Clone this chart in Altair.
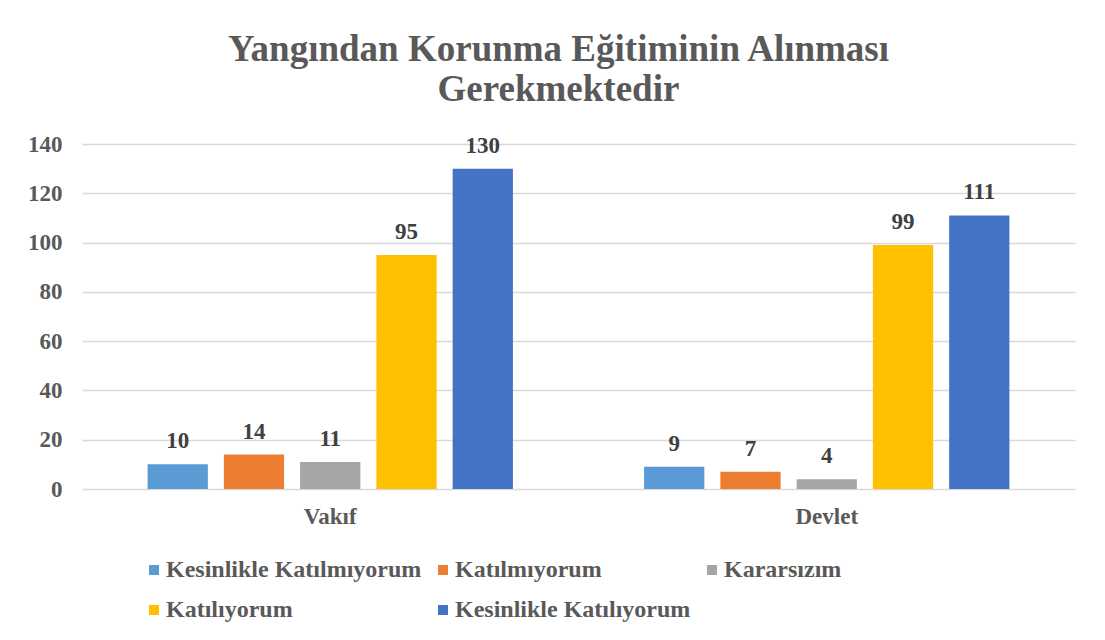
import altair as alt
import pandas as pd

categories = ["Vakıf", "Devlet"]
series = ["Kesinlikle Katılmıyorum", "Katılmıyorum", "Kararsızım", "Katılıyorum", "Kesinlikle Katılıyorum"]
vakif_values = [10, 14, 11, 95, 130]
devlet_values = [9, 7, 4, 99, 111]
colors = ["#5B9BD5", "#ED7D31", "#A5A5A5", "#FFC000", "#4472C4"]
y_ticks = [0, 20, 40, 60, 80, 100, 120, 140]

rows = []
for s, v in zip(series, vakif_values):
    rows.append({"group": categories[0], "series": s, "value": v})
for s, v in zip(series, devlet_values):
    rows.append({"group": categories[1], "series": s, "value": v})
df = pd.DataFrame(rows)

FONT = "Liberation Serif"
GRAY = "#595959"

base = alt.Chart(df).encode(
    x=alt.X("group:N", sort=categories,
            scale=alt.Scale(paddingInner=0, paddingOuter=0),
            axis=alt.Axis(title=None, labelAngle=0, domain=False, ticks=False,
                          labelFont=FONT, labelFontSize=23, labelFontWeight="bold",
                          labelColor=GRAY, labelPadding=16, grid=False)),
    xOffset=alt.XOffset("series:N", sort=series,
                        scale=alt.Scale(paddingInner=0.21, paddingOuter=0.86)),
    y=alt.Y("value:Q", scale=alt.Scale(domain=[0, 140], nice=False),
            axis=alt.Axis(title=None, values=y_ticks, domain=False, ticks=False,
                          grid=True, gridColor="#D9D9D9", gridWidth=1.5,
                          labelFont=FONT, labelFontSize=23, labelFontWeight="bold",
                          labelColor=GRAY, labelPadding=20)),
)

bars = base.mark_bar().encode(
    color=alt.Color("series:N", sort=series,
                    scale=alt.Scale(domain=series, range=colors),
                    legend=alt.Legend(title=None, orient="none", legendX=60, legendY=414,
                                      direction="horizontal", columns=3, padding=0,
                                      symbolType="square", symbolSize=100,
                                      symbolStrokeWidth=0,
                                      labelFont=FONT, labelFontSize=24,
                                      labelFontWeight="bold", labelColor=GRAY,
                                      labelOffset=0, columnPadding=9, rowPadding=16,
                                      labelLimit=400))
)

labels = base.mark_text(dy=-16, baseline="alphabetic", font=FONT, fontSize=23,
                        fontWeight="bold", color="#404040").encode(text="value:Q")

chart = alt.layer(bars, labels).properties(
    width=993,
    height=345,
    autosize=alt.AutoSizeParams(type="none"),
    padding={"left": 74, "top": 136, "right": 22, "bottom": 140},
    title=alt.Title(text=["Yangından Korunma Eğitiminin Alınması", "Gerekmektedir"],
                    font=FONT, fontSize=37, fontWeight="bold", color=GRAY,
                    anchor="middle", dx=-20, offset=24, lineHeight=40),
).configure(background="white").configure_view(stroke=None)

chart.save("out.html", embed_options={"renderer": "svg", "actions": False})
